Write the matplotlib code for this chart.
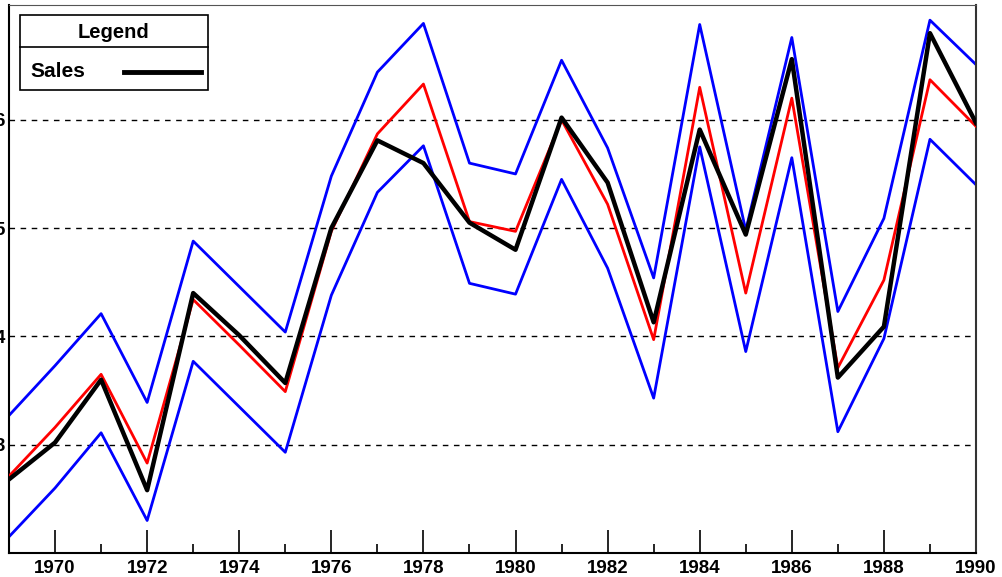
import matplotlib.pyplot as plt
from matplotlib.patches import Rectangle
from matplotlib.lines import Line2D

plt.rcParams["font.family"] = ["Liberation Sans", "DejaVu Sans"]

years = list(range(1969, 1991))
sales = [2.68, 3.02, 3.60, 2.58, 4.40, 4.01, 3.57, 5.00, 5.81, 5.60, 5.05,
         4.80, 6.02, 5.42, 4.13, 5.91, 4.94, 6.56, 3.62, 4.09, 6.80, 5.97]
fitted = [2.71, 3.16, 3.65, 2.83, 4.34, 3.92, 3.49, 4.97, 5.87, 6.33, 5.06,
          4.97, 6.00, 5.22, 3.97, 6.30, 4.40, 6.20, 3.71, 4.52, 6.37, 5.94]
upper = [3.27, 3.73, 4.21, 3.39, 4.88, 4.46, 4.04, 5.48, 6.44, 6.89, 5.60,
         5.50, 6.55, 5.74, 4.54, 6.88, 4.98, 6.76, 4.23, 5.09, 6.92, 6.51]
lower = [2.15, 2.60, 3.11, 2.30, 3.77, 3.35, 2.93, 4.38, 5.33, 5.76, 4.49,
         4.39, 5.45, 4.63, 3.43, 5.75, 3.86, 5.65, 3.12, 3.98, 5.82, 5.40]
y_ticks = [3, 4, 5, 6]

fig = plt.figure(figsize=(10.02, 5.77), dpi=100)
ax = fig.add_axes([9 / 1002, 24 / 577, 967 / 1002, 548 / 577])

for y in y_ticks:
    ax.axhline(y, color="black", lw=1, ls=(0, (4, 4)), zorder=1)

ax.plot(years, upper, color="#0000ff", lw=2, zorder=2)
ax.plot(years, lower, color="#0000ff", lw=2, zorder=2)
ax.plot(years, fitted, color="#ff0000", lw=2, zorder=3)
ax.plot(years, sales, color="black", lw=3.2, zorder=4)

ax.set_xlim(1969, 1990)
ax.set_ylim(2.0, 7.06)
ax.set_xticks(range(1970, 1991, 2))
ax.set_xticks(range(1969, 1991, 2), minor=True)
ax.set_yticks(y_ticks)
ax.tick_params(axis="x", which="major", direction="in", length=16.5, width=1.2,
               labelsize=13.5, pad=5)
ax.tick_params(axis="x", which="minor", direction="in", length=6.5, width=1.2)
ax.tick_params(axis="y", length=0, labelsize=13.5, pad=3)
for lab in ax.get_xticklabels() + ax.get_yticklabels():
    lab.set_fontweight("bold")

ax.spines["left"].set_linewidth(1.5)
ax.spines["bottom"].set_linewidth(1.5)
ax.spines["top"].set_color("#555555")
ax.spines["right"].set_color("#333333")
ax.spines["right"].set_linewidth(1.5)

# legend box
x0, x1 = 11 / 967, 199 / 967
y0, y1 = 1 - 85 / 548, 1 - 10 / 548
ym = 1 - 42 / 548
ax.add_patch(Rectangle((x0, y0), x1 - x0, y1 - y0, transform=ax.transAxes,
                       fill=True, facecolor="white", edgecolor="black", lw=1.2, zorder=10))
ax.add_line(Line2D([x0, x1], [ym, ym], transform=ax.transAxes, color="black", lw=1.2, zorder=11))
ax.text((x0 + x1) / 2, (ym + y1) / 2 - 1 / 548, "Legend", transform=ax.transAxes, ha="center",
        va="center", fontsize=14.5, fontweight="bold", zorder=12)
ax.text(x0 + 10 / 967, (y0 + ym) / 2 - 3 / 548, "Sales", transform=ax.transAxes, ha="left",
        va="center", fontsize=15, fontweight="bold", zorder=12)
ax.add_line(Line2D([x0 + 104 / 967, x0 + 181 / 967], [(y0 + ym) / 2 - 3 / 548] * 2,
                   transform=ax.transAxes, color="black", lw=3.5, zorder=12))

fig.savefig("out.png", dpi=100, facecolor="white")
